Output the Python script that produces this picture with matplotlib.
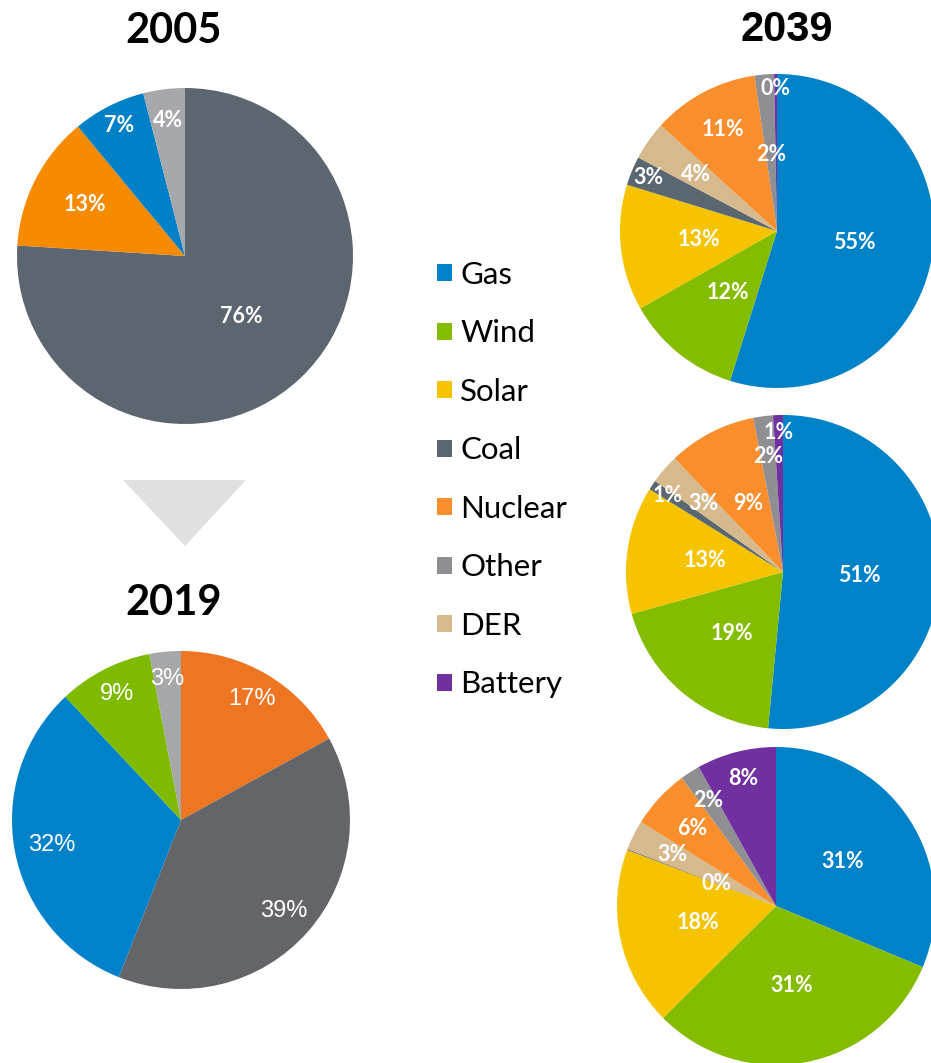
#Generation mix pies: 2005, 2019 and three 2039 cases

import numpy as np
import matplotlib
matplotlib.use("Agg")
import matplotlib.pyplot as plt
from matplotlib.patches import Patch, Polygon

W = 931
H = 1063

#Data
legend_names = ["Gas", "Wind", "Solar", "Coal", "Nuclear", "Other", "DER", "Battery"]

names_2005 = ["Coal", "Nuclear", "Gas", "Other"]
vals_2005 = [76, 13, 7, 4]

names_2019 = ["Nuclear", "Coal", "Gas", "Wind", "Other"]
vals_2019 = [17, 39, 32, 9, 3]

names_2039 = ["Gas", "Wind", "Solar", "Coal", "DER", "Nuclear", "Other", "Battery"]
vals_2039a = [55, 12, 13, 3, 4, 11, 2, 0.3]
vals_2039b = [51, 19, 13, 1, 3, 9, 2, 1]
vals_2039c = [31, 31, 18, 0.1, 3, 6, 2, 8]

#Colours
cols_2005 = {"Coal": "#5c6670", "Nuclear": "#f68b00", "Gas": "#0080c6", "Other": "#a7a8ab"}
cols_2019 = {"Nuclear": "#ee7623", "Coal": "#646569", "Gas": "#0082ca", "Wind": "#7fba00", "Other": "#a6a7a9"}
cols_2039 = {"Gas": "#0082c8", "Wind": "#84bc00", "Solar": "#f5c300", "Coal": "#5a6670",
             "Nuclear": "#f98e2d", "Other": "#8e8e93", "DER": "#d6b98c", "Battery": "#7030a0"}

#Label radii (fraction of pie radius)
dist_2005 = [0.49, 0.67, 0.87, 0.81]
dist_2019 = [0.83, 0.81, 0.78, 0.84, 0.84]
dist_a = [0.5, 0.5, 0.5, 0.89, 0.63, 0.73, 0.49, 0.91]
dist_b = [0.49, 0.51, 0.5, 0.88, 0.67, 0.49, 0.74, 0.89]
dist_c = [0.5, 0.51, 0.5, 0.40, 0.73, 0.72, 0.79, 0.83]

fig = plt.figure(figsize=(W/100.0, H/100.0), dpi=100)

#Overlay in pixel coords for titles, arrow, legend
ax0 = fig.add_axes([0, 0, 1, 1])
ax0.set_xlim(0, W)
ax0.set_ylim(H, 0)
ax0.axis("off")

ax0.text(174, 31, "2005", ha="center", va="center", fontsize=30, fontweight="bold", family="Lato")
ax0.text(174, 603, "2019", ha="center", va="center", fontsize=30, fontweight="bold", family="Lato")
ax0.text(787, 30, "2039", ha="center", va="center", fontsize=30, fontweight="bold", family="Liberation Sans")

ax0.add_patch(Polygon([[123, 480], [246, 480], [185, 546]], closed=True, color="#e0e0e0", lw=0))

hands = [Patch(facecolor=cols_2039[n], edgecolor="none") for n in legend_names]
ax0.legend(hands, legend_names, loc="upper left", bbox_to_anchor=(437, 261),
           bbox_transform=ax0.transData, frameon=False, handlelength=0.47, handleheight=0.47,
           handletextpad=0.28, labelspacing=0.975, borderpad=0, borderaxespad=0,
           prop={"family": "Lato", "size": 22.5})


def drawPie(cx, cy, r, vals, names, cMap, dists, fSz, fam, fw):
	ax = fig.add_axes([(cx-r)/W, (H-cy-r)/H, 2.0*r/W, 2.0*r/H])
	wedges, _ = ax.pie(vals, colors=[cMap[n] for n in names], startangle=90,
	                   counterclock=False, radius=1.0, wedgeprops=dict(linewidth=0))
	ax.set_xlim(-1, 1)
	ax.set_ylim(-1, 1)
	ax.axis("off")
	for w, v, d in zip(wedges, vals, dists):
		a = np.deg2rad(0.5*(w.theta1+w.theta2))
		ax.text(d*np.cos(a), d*np.sin(a), "%.0f%%" % v, ha="center", va="center",
		        color="white", fontsize=fSz, family=fam, fontweight=fw)


drawPie(185, 256, 168, vals_2005, names_2005, cols_2005, dist_2005, 15.5, "Lato", "bold")
drawPie(181, 820, 169, vals_2019, names_2019, cols_2019, dist_2019, 17, "Liberation Sans", "normal")
drawPie(777, 231, 157, vals_2039a, names_2039, cols_2039, dist_a, 15.5, "Lato", "bold")
drawPie(783, 572, 157, vals_2039b, names_2039, cols_2039, dist_b, 15.5, "Lato", "bold")
drawPie(776, 906, 159, vals_2039c, names_2039, cols_2039, dist_c, 15.5, "Lato", "bold")

fig.savefig("out.png", dpi=100)
plt.close("all")
